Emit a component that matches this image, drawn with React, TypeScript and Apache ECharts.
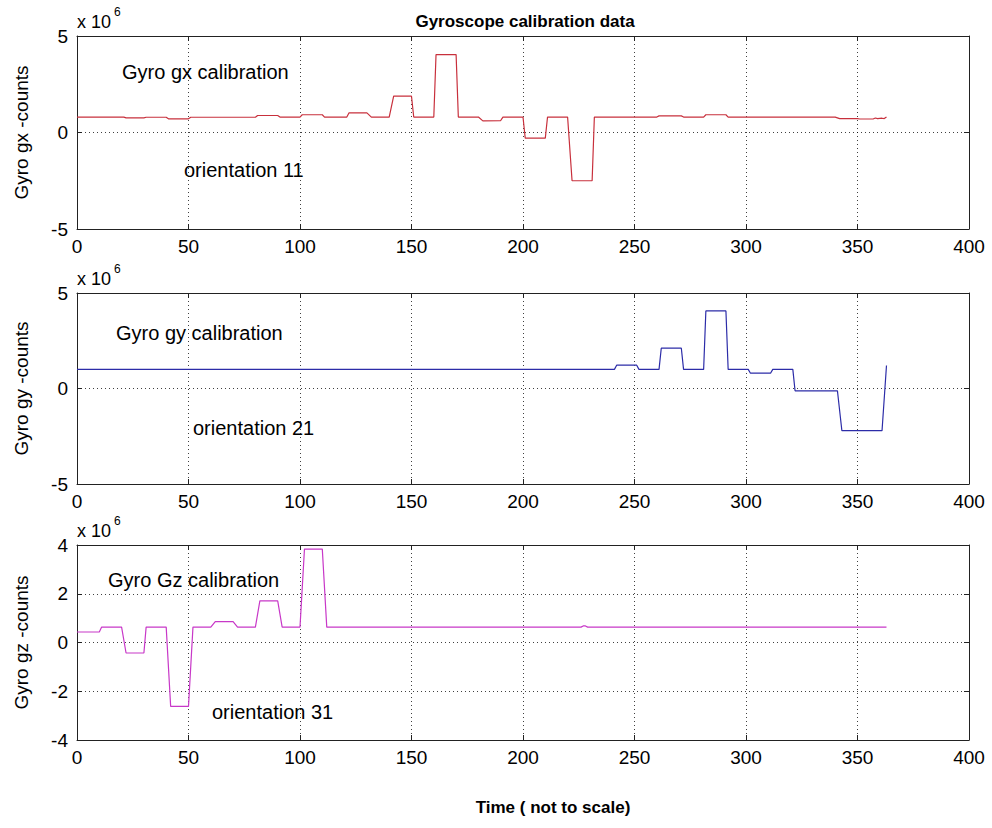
import React, { useEffect, useRef } from "react";
import * as echarts from "echarts";

// Sample index (time, not to scale) and gyro counts in units of 1e6
const gxTime = [0, 21, 22, 30, 31, 40, 41, 50, 51, 80, 81, 90, 91, 100, 101, 110, 111, 121, 122, 130, 132, 140, 142, 150, 151, 160, 161, 170, 171, 180, 182, 190, 191, 200, 201, 210, 211, 220, 222, 231, 232, 260, 261, 271, 272, 281, 282, 291, 292, 340, 342, 350, 351, 357, 358, 359, 361, 362, 363];
const gxCounts = [0.8, 0.8, 0.76, 0.76, 0.79, 0.79, 0.71, 0.71, 0.79, 0.79, 0.88, 0.88, 0.8, 0.8, 0.92, 0.92, 0.8, 0.8, 1.02, 1.02, 0.8, 0.8, 1.88, 1.88, 0.8, 0.8, 4.04, 4.04, 0.8, 0.8, 0.6, 0.62, 0.8, 0.8, -0.29, -0.29, 0.8, 0.8, -2.5, -2.5, 0.8, 0.8, 0.86, 0.86, 0.8, 0.8, 0.92, 0.92, 0.8, 0.8, 0.72, 0.72, 0.7, 0.7, 0.75, 0.72, 0.74, 0.72, 0.8];

const gyTime = [0, 241, 242, 251, 252, 261, 262, 271, 272, 281, 282, 291, 292, 301, 302, 311, 312, 321, 322, 341, 343, 361, 363];
const gyCounts = [1.0, 1.0, 1.22, 1.22, 1.0, 1.0, 2.11, 2.11, 1.0, 1.0, 4.06, 4.06, 1.0, 1.0, 0.8, 0.8, 1.0, 1.0, -0.12, -0.12, -2.21, -2.21, 1.2];

const gzTime = [0, 10, 11, 20, 22, 30, 31, 40, 42, 50, 52, 60, 62, 70, 72, 80, 82, 90, 92, 100, 102, 110, 112, 226, 227, 228, 229, 363];
const gzCounts = [0.43, 0.43, 0.63, 0.63, -0.43, -0.43, 0.63, 0.63, -2.62, -2.62, 0.63, 0.63, 0.86, 0.86, 0.63, 0.63, 1.71, 1.71, 0.63, 0.63, 3.83, 3.83, 0.63, 0.63, 0.68, 0.68, 0.63, 0.63];

const xTicks = { min: 0, max: 400, interval: 50 };
const yRanges = [
  { min: -5, max: 5, interval: 5 },
  { min: -5, max: 5, interval: 5 },
  { min: -4, max: 4, interval: 2 },
];
const yNames = ["Gyro gx -counts", "Gyro gy -counts", "Gyro gz -counts"];
const titles = ["Gyro gx calibration", "Gyro gy calibration", "Gyro Gz calibration"];
const orientations = ["orientation 11", "orientation 21", "orientation 31"];
const lineColors = ["#c8303c", "#2c2ca8", "#c838c8"];

const FONT = "'Liberation Sans', Arial, Helvetica, sans-serif";

const grids = [
  { left: 77, top: 36, width: 892, height: 193 },
  { left: 77, top: 293, width: 892, height: 191 },
  { left: 77, top: 545, width: 892, height: 195 },
];
const annoPos = [
  { t: [122, 72], o: [184, 170] },
  { t: [116, 333], o: [193, 428] },
  { t: [108, 580], o: [212, 712] },
];

export default function App() {
  const ref = useRef<HTMLDivElement>(null);
  useEffect(() => {
    if (!ref.current) return;
    const chart = echarts.init(ref.current, null, { renderer: "svg" });
    const seriesData = [
      gxTime.map((t, i) => [t, gxCounts[i]]),
      gyTime.map((t, i) => [t, gyCounts[i]]),
      gzTime.map((t, i) => [t, gzCounts[i]]),
    ];
    const axisLine = { show: true, onZero: false, lineStyle: { color: "#222", width: 1 } };
    const axisTick = { show: true, inside: true, length: 5, lineStyle: { color: "#222", width: 1 } };
    const dotted = { show: true, lineStyle: { color: "#000", width: 1, type: [1, 3] as any, opacity: 0.75 } };
    const xAxis: any[] = [];
    const yAxis: any[] = [];
    const series: any[] = [];
    const graphic: any[] = [];
    grids.forEach((g, i) => {
      xAxis.push({
        type: "value", gridIndex: i, position: "bottom", ...xTicks,
        axisLine, axisTick,
        axisLabel: { fontSize: 19, color: "#000", fontFamily: FONT, margin: 8 },
        splitLine: dotted,
      });
      xAxis.push({
        type: "value", gridIndex: i, position: "top", ...xTicks,
        axisLine, axisTick, axisLabel: { show: false }, splitLine: { show: false },
      });
      yAxis.push({
        type: "value", gridIndex: i, position: "left", ...yRanges[i],
        axisLine, axisTick,
        axisLabel: { fontSize: 19, color: "#000", fontFamily: FONT, margin: 9 },
        splitLine: dotted,
        name: yNames[i], nameLocation: "middle", nameGap: 46, nameRotate: 90,
        nameTextStyle: { fontSize: 19, color: "#000", fontFamily: FONT },
      });
      yAxis.push({
        type: "value", gridIndex: i, position: "right", ...yRanges[i],
        axisLine, axisTick, axisLabel: { show: false }, splitLine: { show: false },
      });
      series.push({
        type: "line", xAxisIndex: 2 * i, yAxisIndex: 2 * i,
        data: seriesData[i], showSymbol: false, symbol: "none",
        lineStyle: { color: lineColors[i], width: 1.2 },
        itemStyle: { color: lineColors[i] },
      });
      graphic.push(
        { type: "text", x: g.left, y: g.top - 14, style: { text: "x 10", fontSize: 18, fontFamily: FONT, fill: "#000", align: "left", verticalAlign: "middle" } },
        { type: "text", x: g.left + 37, y: g.top - 24, style: { text: "6", fontSize: 12, fontFamily: FONT, fill: "#000", align: "left", verticalAlign: "middle" } },
        { type: "text", x: annoPos[i].t[0], y: annoPos[i].t[1], style: { text: titles[i], fontSize: 20, fontFamily: FONT, fill: "#000", align: "left", verticalAlign: "middle" } },
        { type: "text", x: annoPos[i].o[0], y: annoPos[i].o[1], style: { text: orientations[i], fontSize: 20, fontFamily: FONT, fill: "#000", align: "left", verticalAlign: "middle" } },
      );
    });
    graphic.push(
      { type: "text", x: 525, y: 21, style: { text: "Gyroscope calibration data", fontSize: 17, fontWeight: "bold", fontFamily: FONT, fill: "#000", align: "center", verticalAlign: "middle" } },
      { type: "text", x: 553, y: 807, style: { text: "Time ( not to scale)", fontSize: 17, fontWeight: "bold", fontFamily: FONT, fill: "#000", align: "center", verticalAlign: "middle" } },
    );
    chart.setOption({
      animation: false,
      backgroundColor: "#fff",
      grid: grids,
      xAxis,
      yAxis,
      series,
      graphic,
    });
    return () => chart.dispose();
  }, []);
  return <div ref={ref} style={{ position: "fixed", left: 0, top: 0, width: 992, height: 828 }} />;
}
